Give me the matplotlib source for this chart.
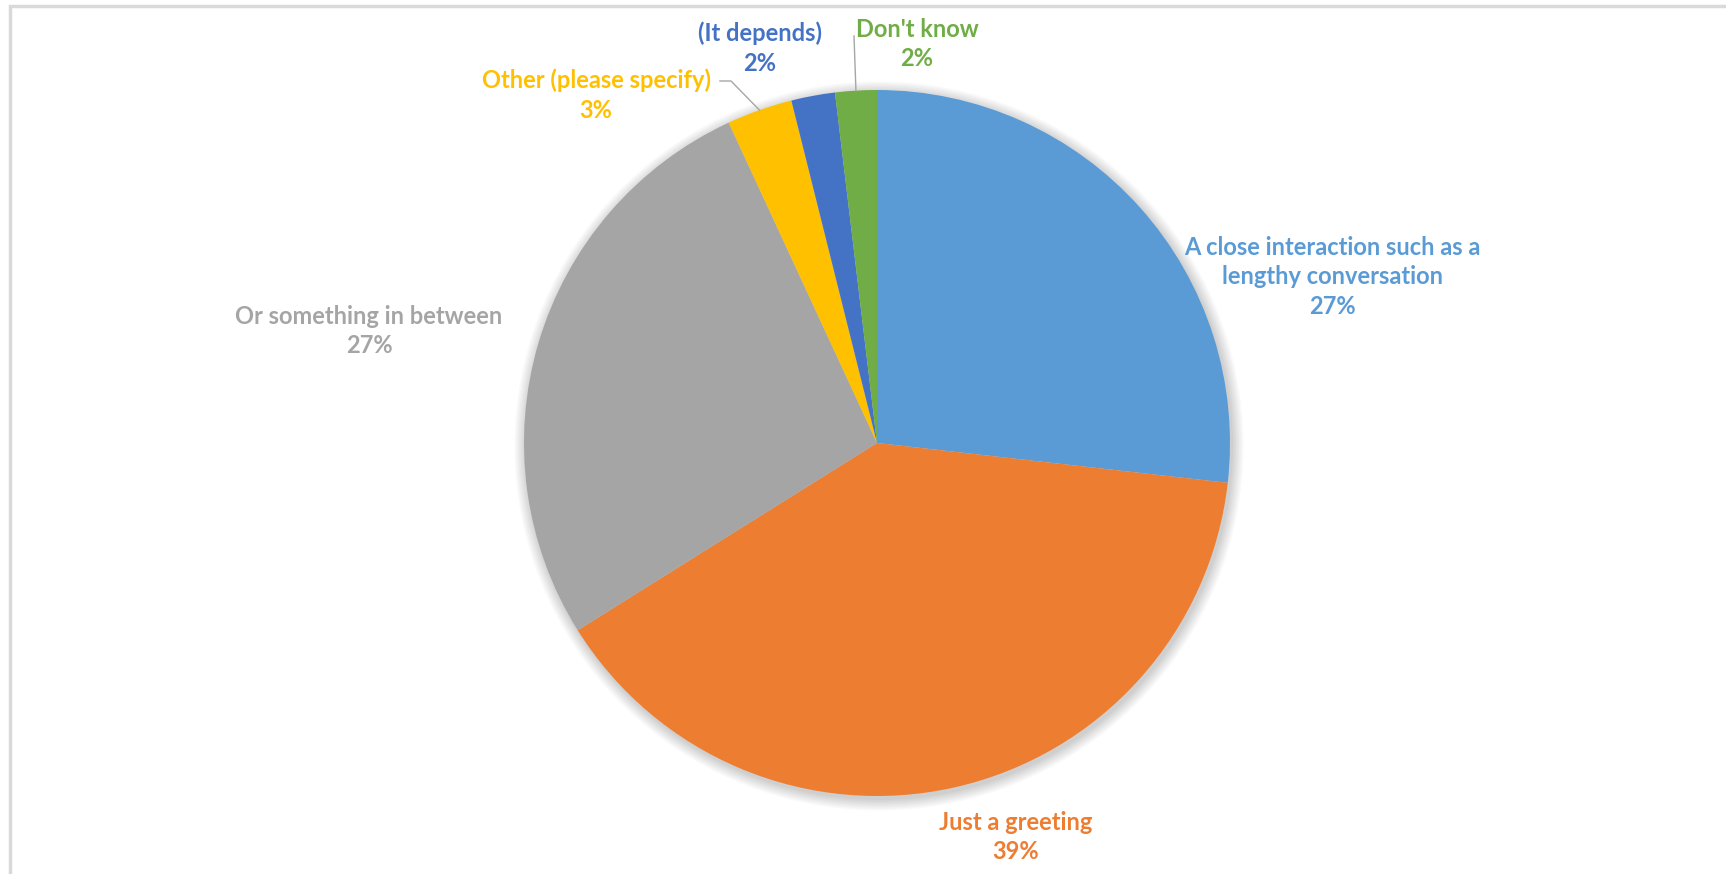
import matplotlib.pyplot as plt
from matplotlib.patches import Circle, Rectangle
import numpy as np

labels = ["A close interaction such as a\nlengthy conversation", "Just a greeting",
          "Or something in between", "Other (please specify)", "(It depends)", "Don't know"]
values = [26.8, 39.3, 27.0, 3.0, 2.0, 1.9]
colors = ["#5B9BD5", "#ED7D31", "#A5A5A5", "#FFC000", "#4472C4", "#70AD47"]

W, H = 1726, 874
fig = plt.figure(figsize=(W / 100, H / 100), dpi=100)
ax = fig.add_axes([0, 0, 1, 1])

cx, cy, r = 877, H - 443, 353

# chart area border
ax.add_patch(Rectangle((10, -20), W + 20, H - 6 + 20, fill=False, edgecolor="#D9D9D9", lw=2.5))

# soft shadow
for i in range(8):
    ax.add_patch(Circle((cx + 2, cy - 3), r + 1 + i * 1.5, color="black", alpha=0.025, lw=0))

wedges, _ = ax.pie(values, colors=colors, startangle=90, counterclock=False,
                   center=(cx, cy), radius=r, frame=True,
                   wedgeprops=dict(linewidth=0))
ax.set_xlim(0, W)
ax.set_ylim(0, H)
ax.set_aspect("equal")
ax.axis("off")

# label anchors (pixel layout)
label_pos = [(1332, 277), (1016, 837), (369, 331), (596, 95), (760, 48), (917, 44)]
total = sum(values)
for lab, v, c, (px, py) in zip(labels, values, colors, label_pos):
    ax.text(px, H - py, f"{lab}\n{round(v / total * 100)}%", color=c, ha="center", va="center",
            fontsize=17, fontweight="bold", family="Lato", linespacing=1.35)

# leader lines to small slices
def edge_point(w):
    ang = np.deg2rad((w.theta1 + w.theta2) / 2)
    return cx + r * np.cos(ang), cy + r * np.sin(ang)

ex, ey = edge_point(wedges[3])
ax.plot([720, 731, ex], [H - 81, H - 81, ey], color="#A6A6A6", lw=1)
ex, ey = edge_point(wedges[5])
ax.plot([854, ex], [H - 36, ey], color="#A6A6A6", lw=1)

fig.savefig("out.png", dpi=100)
